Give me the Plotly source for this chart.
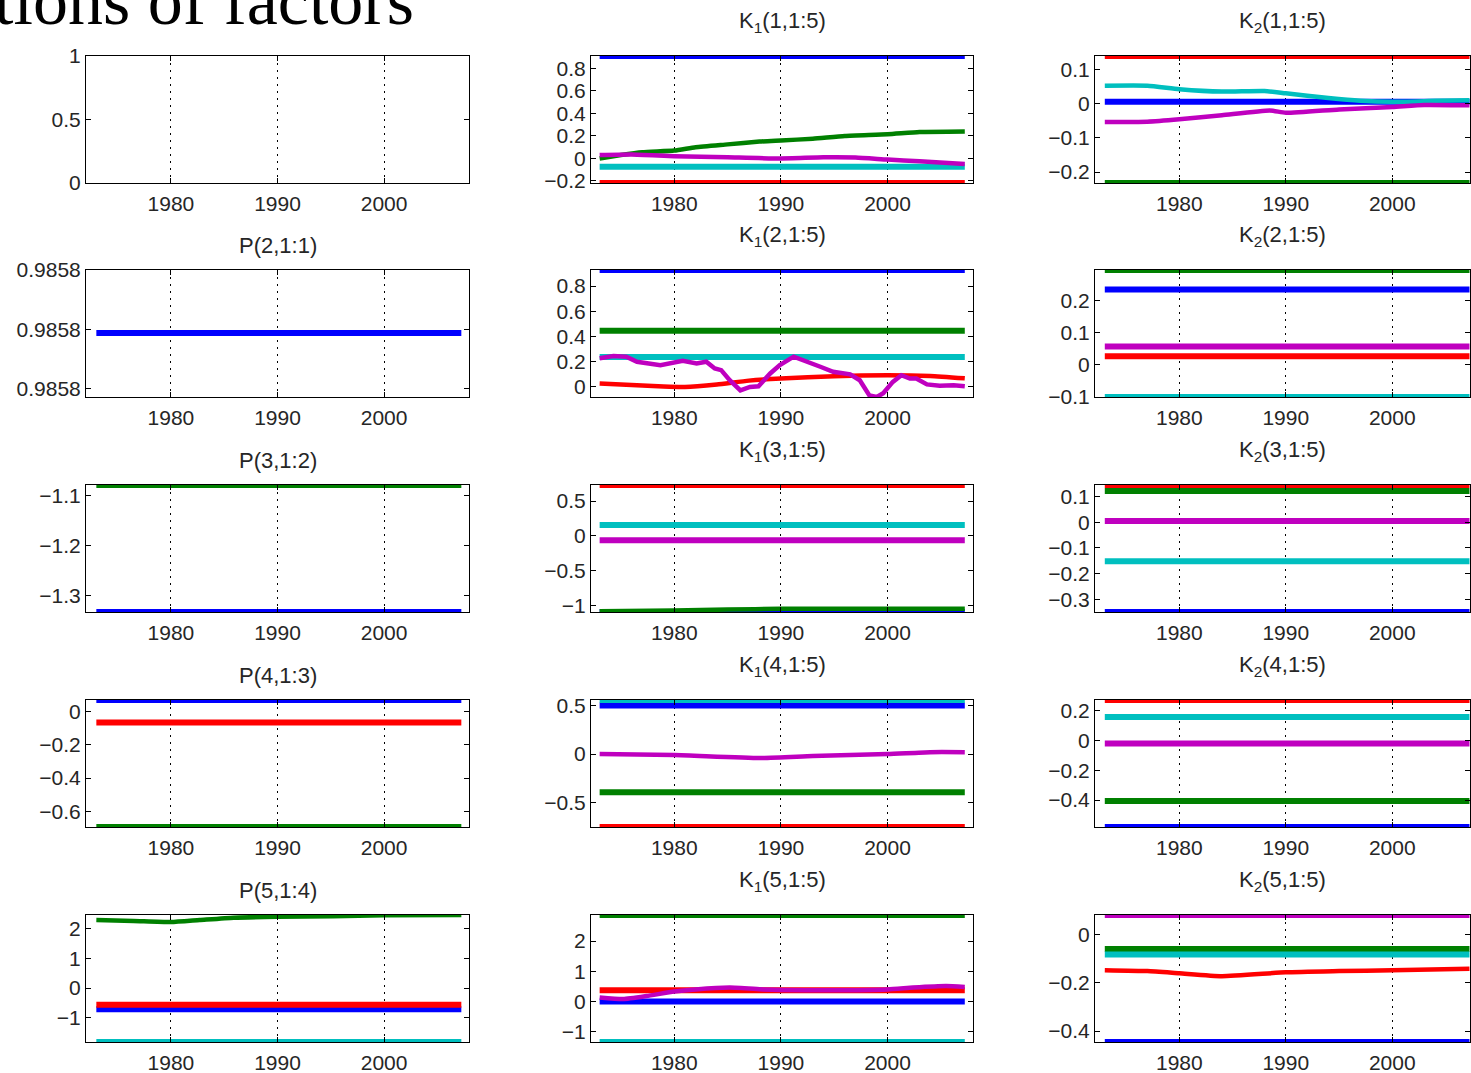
import plotly.graph_objects as go

W, H = 1471, 1073

# ---------------- data ----------------
YEARS_FLAT = [1973.0, 2007.25]
TICK_YEARS = [1980, 1990, 2000]

# K1(1,1:5)
K1_1_BLUE = [0.91, 0.91]
K1_1_GREEN_YEARS = [1973, 1975, 1977, 1980, 1982, 1985, 1988, 1990, 1993, 1996, 2000, 2003, 2007.25]
K1_1_GREEN = [0.0, 0.03, 0.055, 0.07, 0.10, 0.125, 0.15, 0.16, 0.175, 0.20, 0.215, 0.235, 0.24]
K1_1_RED = [-0.218, -0.218]
K1_1_CYAN = [-0.073, -0.073]
K1_1_MAGENTA_YEARS = [1973, 1976, 1980, 1985, 1990, 1994, 1997, 2000, 2003, 2007.25]
K1_1_MAGENTA = [0.03, 0.035, 0.02, 0.01, 0.0, 0.01, 0.008, -0.01, -0.025, -0.05]

# K2(1,1:5)
K2_1_BLUE = [0.005, 0.005]
K2_1_GREEN = [-0.232, -0.232]
K2_1_RED = [0.139, 0.139]
K2_1_CYAN_YEARS = [1973, 1977, 1980, 1984, 1988, 1990, 1994, 1997, 2000, 2004, 2007.25]
K2_1_CYAN = [0.052, 0.052, 0.042, 0.035, 0.037, 0.03, 0.016, 0.008, 0.005, 0.008, 0.01]
K2_1_MAGENTA_YEARS = [1973, 1977, 1980, 1984, 1988.5, 1990, 1995, 2000, 2003, 2007.25]
K2_1_MAGENTA = [-0.054, -0.053, -0.046, -0.034, -0.02, -0.027, -0.017, -0.01, -0.004, -0.005]

# P(2,1:1)
P2_BLUE = [0.9857797, 0.9857797]
P2_TICKS = [0.985775, 0.985780, 0.985785]

# K1(2,1:5)
K1_2_BLUE = [0.928, 0.928]
K1_2_GREEN = [0.445, 0.445]
K1_2_RED_YEARS = [1973, 1976, 1979, 1981, 1984, 1987, 1990, 1995, 2000, 2004, 2007.25]
K1_2_RED = [0.027, 0.015, 0.003, 0.0, 0.02, 0.05, 0.067, 0.085, 0.093, 0.087, 0.068]
K1_2_CYAN = [0.237, 0.237]
K1_2_MAGENTA_YEARS = [1973.0, 1974.3, 1975.5, 1976.5, 1978.7, 1980.8, 1982.1, 1983.0, 1983.8,
                      1984.4, 1985.2, 1986.2, 1987.1, 1987.9, 1989.0, 1989.9, 1991.2, 1992.4,
                      1993.7, 1994.9, 1996.5, 1997.4, 1998.3, 1999.0, 1999.6, 2000.5, 2001.3,
                      2002.1, 2002.7, 2003.7, 2004.9, 2006.2, 2007.25]
K1_2_MAGENTA = [0.227, 0.245, 0.24, 0.2, 0.173, 0.208, 0.187, 0.2, 0.147,
                0.133, 0.053, -0.027, 0.0, 0.005, 0.107, 0.173, 0.24, 0.205,
                0.16, 0.12, 0.1, 0.053, -0.067, -0.08, -0.05, 0.04, 0.093,
                0.067, 0.067, 0.02, 0.01, 0.013, 0.005]

# K2(2,1:5)
K2_2_BLUE = [0.236, 0.236]
K2_2_GREEN = [0.297, 0.297]
K2_2_RED = [0.027, 0.027]
K2_2_CYAN = [-0.101, -0.101]
K2_2_MAGENTA = [0.057, 0.057]

# P(3,1:2)
P3_BLUE = [-1.333, -1.333]
P3_GREEN = [-1.078, -1.078]

# K1(3,1:5)
K1_3_BLUE = [-1.09, -1.09]
K1_3_GREEN_YEARS = [1973, 1980, 1985, 1990, 2007.25]
K1_3_GREEN = [-1.08, -1.07, -1.055, -1.045, -1.045]
K1_3_RED = [0.73, 0.73]
K1_3_CYAN = [0.155, 0.155]
K1_3_MAGENTA = [-0.062, -0.062]

# K2(3,1:5)
K2_3_BLUE = [-0.349, -0.349]
K2_3_GREEN = [0.122, 0.122]
K2_3_RED = [0.145, 0.145]
K2_3_CYAN = [-0.152, -0.152]
K2_3_MAGENTA = [0.005, 0.005]

# P(4,1:3)
P4_BLUE = [0.07, 0.07]
P4_GREEN = [-0.695, -0.695]
P4_RED = [-0.066, -0.066]

# K1(4,1:5)
K1_4_BLUE = [0.5, 0.5]
K1_4_GREEN = [-0.392, -0.392]
K1_4_RED = [-0.75, -0.75]
K1_4_CYAN = [0.557, 0.557]
K1_4_MAGENTA_YEARS = [1973, 1980, 1988, 1993, 2000, 2004, 2007.25]
K1_4_MAGENTA = [0.0, -0.01, -0.04, -0.02, 0.0, 0.02, 0.02]

# K2(4,1:5)
K2_4_BLUE = [-0.582, -0.582]
K2_4_GREEN = [-0.407, -0.407]
K2_4_RED = [0.274, 0.274]
K2_4_CYAN = [0.16, 0.16]
K2_4_MAGENTA = [-0.02, -0.02]

# P(5,1:4)
P5_BLUE = [-0.71, -0.71]
P5_GREEN_YEARS = [1973.0, 1976.5, 1980.0, 1982.7, 1985.9, 1990.0, 1995.2, 2000.0, 2007.25]
P5_GREEN = [2.30, 2.27, 2.23, 2.30, 2.38, 2.41, 2.43, 2.46, 2.47]
P5_RED = [-0.56, -0.56]
P5_CYAN = [-1.82, -1.82]

# K1(5,1:5)
K1_5_BLUE = [0.0, 0.0]
K1_5_GREEN = [2.86, 2.86]
K1_5_RED = [0.37, 0.37]
K1_5_CYAN = [-1.34, -1.34]
K1_5_MAGENTA_YEARS = [1973, 1975.2, 1977.4, 1980, 1982, 1985.2, 1988.3, 1990, 1994.6, 2000, 2002.4, 2005.5, 2007.25]
K1_5_MAGENTA = [0.13, 0.08, 0.18, 0.33, 0.40, 0.46, 0.40, 0.38, 0.37, 0.40, 0.46, 0.51, 0.48]

# K2(5,1:5)
K2_5_BLUE = [-0.445, -0.445]
K2_5_GREEN = [-0.061, -0.061]
K2_5_RED_YEARS = [1973, 1977, 1980, 1984, 1990, 1995, 2000, 2007.25]
K2_5_RED = [-0.148, -0.152, -0.161, -0.173, -0.157, -0.152, -0.148, -0.142]
K2_5_CYAN = [-0.083, -0.083]
K2_5_MAGENTA = [0.08, 0.08]

# ---------------- styling ----------------
COLORS = {"blue": "#0000FF", "green": "#008000", "red": "#FF0000",
          "cyan": "#00BFBF", "magenta": "#BF00BF"}
COL_PX = [(86, 469), (591, 973), (1095, 1470)]
ROW_PX = [(56, 183), (270, 397), (485, 612), (700, 827), (915, 1042)]
XRANGES = [(1972.03, 2007.97), (1972.19, 2008.02), (1972.08, 2007.3)]
TICK_FONT = dict(family="Liberation Sans, Arial, sans-serif", size=21, color="#262626")
TITLE_FONT = dict(family="Liberation Sans, Arial, sans-serif", size=22, color="#262626")
LW_FLAT = 6
LW_CURVE = 4.5

F = YEARS_FLAT
panels = [
    dict(row=1, col=1, title=None, series=[], dtick=0.5, yrange=[0, 1]),
    dict(row=1, col=2, title="K<sub>1</sub>(1,1:5)", dtick=0.2, series=[
        ("blue", F, K1_1_BLUE), ("green", K1_1_GREEN_YEARS, K1_1_GREEN), ("red", F, K1_1_RED),
        ("cyan", F, K1_1_CYAN), ("magenta", K1_1_MAGENTA_YEARS, K1_1_MAGENTA)]),
    dict(row=1, col=3, title="K<sub>2</sub>(1,1:5)", dtick=0.1, series=[
        ("blue", F, K2_1_BLUE), ("green", F, K2_1_GREEN), ("red", F, K2_1_RED),
        ("cyan", K2_1_CYAN_YEARS, K2_1_CYAN), ("magenta", K2_1_MAGENTA_YEARS, K2_1_MAGENTA)]),
    dict(row=2, col=1, title="P(2,1:1)", series=[("blue", F, P2_BLUE)],
         tickvals=P2_TICKS, yrange=[P2_TICKS[0] - 0.0000007, P2_TICKS[2] + 0.00000001]),
    dict(row=2, col=2, title="K<sub>1</sub>(2,1:5)", dtick=0.2, series=[
        ("blue", F, K1_2_BLUE), ("green", F, K1_2_GREEN), ("red", K1_2_RED_YEARS, K1_2_RED),
        ("cyan", F, K1_2_CYAN), ("magenta", K1_2_MAGENTA_YEARS, K1_2_MAGENTA)]),
    dict(row=2, col=3, title="K<sub>2</sub>(2,1:5)", dtick=0.1, series=[
        ("blue", F, K2_2_BLUE), ("green", F, K2_2_GREEN), ("red", F, K2_2_RED),
        ("cyan", F, K2_2_CYAN), ("magenta", F, K2_2_MAGENTA)]),
    dict(row=3, col=1, title="P(3,1:2)", dtick=0.1, series=[
        ("blue", F, P3_BLUE), ("green", F, P3_GREEN)]),
    dict(row=3, col=2, title="K<sub>1</sub>(3,1:5)", dtick=0.5, series=[
        ("blue", F, K1_3_BLUE), ("green", K1_3_GREEN_YEARS, K1_3_GREEN), ("red", F, K1_3_RED),
        ("cyan", F, K1_3_CYAN), ("magenta", F, K1_3_MAGENTA)]),
    dict(row=3, col=3, title="K<sub>2</sub>(3,1:5)", dtick=0.1, series=[
        ("blue", F, K2_3_BLUE), ("green", F, K2_3_GREEN), ("red", F, K2_3_RED),
        ("cyan", F, K2_3_CYAN), ("magenta", F, K2_3_MAGENTA)]),
    dict(row=4, col=1, title="P(4,1:3)", dtick=0.2, series=[
        ("blue", F, P4_BLUE), ("green", F, P4_GREEN), ("red", F, P4_RED)]),
    dict(row=4, col=2, title="K<sub>1</sub>(4,1:5)", dtick=0.5, series=[
        ("blue", F, K1_4_BLUE), ("green", F, K1_4_GREEN), ("red", F, K1_4_RED),
        ("cyan", F, K1_4_CYAN), ("magenta", K1_4_MAGENTA_YEARS, K1_4_MAGENTA)]),
    dict(row=4, col=3, title="K<sub>2</sub>(4,1:5)", dtick=0.2, series=[
        ("blue", F, K2_4_BLUE), ("green", F, K2_4_GREEN), ("red", F, K2_4_RED),
        ("cyan", F, K2_4_CYAN), ("magenta", F, K2_4_MAGENTA)]),
    dict(row=5, col=1, title="P(5,1:4)", dtick=1, series=[
        ("blue", F, P5_BLUE), ("green", P5_GREEN_YEARS, P5_GREEN), ("red", F, P5_RED),
        ("cyan", F, P5_CYAN)]),
    dict(row=5, col=2, title="K<sub>1</sub>(5,1:5)", dtick=1, series=[
        ("blue", F, K1_5_BLUE), ("green", F, K1_5_GREEN), ("red", F, K1_5_RED),
        ("cyan", F, K1_5_CYAN), ("magenta", K1_5_MAGENTA_YEARS, K1_5_MAGENTA)]),
    dict(row=5, col=3, title="K<sub>2</sub>(5,1:5)", dtick=0.2, series=[
        ("blue", F, K2_5_BLUE), ("green", F, K2_5_GREEN), ("red", K2_5_RED_YEARS, K2_5_RED),
        ("cyan", F, K2_5_CYAN), ("magenta", F, K2_5_MAGENTA)]),
]

fig = go.Figure()
layout = dict(width=W, height=H, margin=dict(l=0, r=0, t=0, b=0, autoexpand=False),
              paper_bgcolor="white", plot_bgcolor="white", showlegend=False)
annotations = []

for p in panels:
    idx = (p["row"] - 1) * 3 + p["col"]
    sfx = "" if idx == 1 else str(idx)
    x0, x1 = COL_PX[p["col"] - 1]
    y0, y1 = ROW_PX[p["row"] - 1]
    xd = [x0 / W, x1 / W]
    yd = [1 - y1 / H, 1 - y0 / H]

    allv = [v for _, _, vals in p["series"] for v in vals]
    yr = p["yrange"] if "yrange" in p else [min(allv), max(allv)]

    if not p["series"]:
        # empty axes still need a (blank) trace so the frame is drawn
        fig.add_trace(go.Scatter(x=[None], y=[None], mode="lines",
                                 xaxis="x" + sfx, yaxis="y" + sfx, hoverinfo="skip"))
    for cname, xs, ys in p["series"]:
        flat = len(ys) == 2 and ys[0] == ys[1]
        jagged = len(ys) > 20
        fig.add_trace(go.Scatter(
            x=xs, y=ys, mode="lines",
            line=dict(color=COLORS[cname], width=LW_FLAT if flat else LW_CURVE,
                      shape="linear" if (flat or jagged) else "spline", smoothing=0.5),
            xaxis="x" + sfx, yaxis="y" + sfx, hoverinfo="skip"))

    layout["xaxis" + sfx] = dict(
        domain=xd, range=list(XRANGES[p["col"] - 1]), anchor="y" + sfx, automargin=False,
        tickmode="array", tickvals=TICK_YEARS, ticks="inside", ticklen=5,
        tickcolor="black", showline=True, linecolor="black", linewidth=1, mirror="ticks",
        showgrid=True, gridcolor="black", gridwidth=1, griddash="2px,5px",
        zeroline=False, tickfont=TICK_FONT, fixedrange=True, ticklabelstandoff=2)
    ydict = dict(
        domain=yd, range=yr, anchor="x" + sfx, automargin=False, ticks="inside", ticklen=5,
        tickcolor="black", showline=True, linecolor="black", linewidth=1, mirror="ticks",
        showgrid=False, zeroline=False, tickfont=TICK_FONT, fixedrange=True)
    if "tickvals" in p:
        ydict.update(tickmode="array", tickvals=p["tickvals"],
                     ticktext=["0.9858"] * len(p["tickvals"]))
    else:
        ydict.update(tickmode="linear", tick0=0, dtick=p["dtick"])
    layout["yaxis" + sfx] = ydict

    if p["title"]:
        is_k = p["title"].startswith("K")
        gap = 18 if is_k else 10
        annotations.append(dict(text=p["title"], xref="paper", yref="paper",
                                x=(x0 + x1) / 2 / W, y=1 - (y0 - gap) / H,
                                xanchor="center", yanchor="bottom", showarrow=False,
                                font=TITLE_FONT))

annotations.append(dict(text="tions of factors", xref="paper", yref="paper",
                        x=-8 / W, y=1 - 41 / H, xanchor="left", yanchor="bottom",
                        showarrow=False,
                        font=dict(family="Liberation Serif, Times New Roman, serif",
                                  size=70, color="black")))
layout["annotations"] = annotations
fig.update_layout(**layout)
fig.write_html("out.html")
